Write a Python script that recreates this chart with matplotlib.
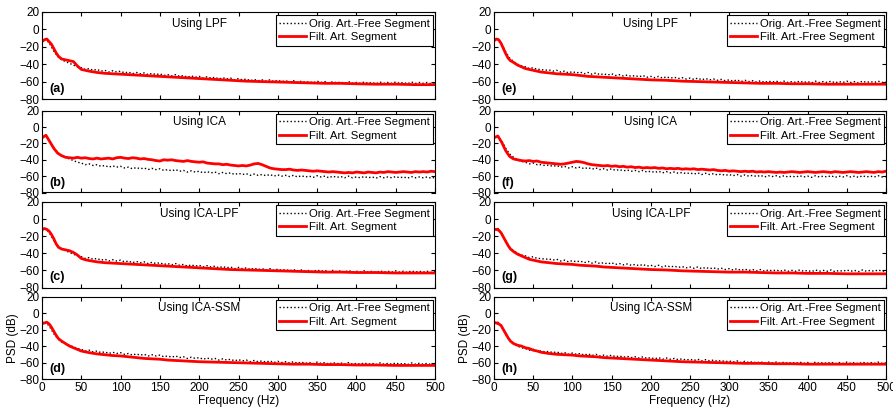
"""
PSD comparison of original artifact-free segments and filtered segments
for four artifact-removal methods (LPF, ICA, ICA-LPF, ICA-SSM).
Left column: filtered artifact segment; right column: filtered artifact-free segment.
"""

import numpy as np
import matplotlib.pyplot as plt

# ── Style ────────────────────────────────────────────────────────────
plt.rcParams.update({
    "font.family":      ["Liberation Sans", "DejaVu Sans"],
    "font.size":        8.5,
    "axes.linewidth":   0.8,
    "xtick.direction":  "in",
    "ytick.direction":  "in",
    "xtick.top":        True,
    "ytick.right":      True,
    "xtick.major.size": 3,
    "ytick.major.size": 3,
    "xtick.major.pad":  2,
    "ytick.major.pad":  2,
})

# ── Data (PSD in dB) ─────────────────────────────────────────────────
FREQ_FINE = np.arange(0, 505, 5)
FREQ_RED = [0, 3, 6, 9, 12, 15, 18, 21, 25, 30, 35, 40, 45, 50, 55, 60,
            70, 80, 90, 100, 110, 120, 130, 140, 150, 160, 170, 180, 190,
            200, 220, 240, 260, 280, 300, 320, 340, 360, 380, 400, 425,
            450, 475, 500]

# original artifact-free segment, left column
orig_left = [
    -14, -11, -17, -25, -31, -35, -37, -39, -41, -43, -44, -46, -45, -47,
    -46, -48, -47, -49, -47.5, -49, -48, -50, -49, -51, -49.5, -51, -50,
    -52, -50.5, -52, -51, -53, -52, -53.5, -52, -54, -53, -55, -53.5, -55,
    -54, -56, -54.5, -56, -55, -57, -55.5, -57, -56, -58, -56.5, -58, -57,
    -59, -57.5, -59, -58, -59.5, -58, -60, -58.5, -60, -59, -60.5, -59,
    -61, -59.5, -61, -60, -61.5, -59.5, -61, -60, -62, -60, -61.5, -60.5,
    -62, -60, -62, -61, -62, -60.5, -62, -61, -62.5, -60.5, -62, -61, -62,
    -60.5, -62, -61, -62.5, -60.5, -62, -61, -62, -61, -62.5, -61.5,
]

# original artifact-free segment, right column
orig_right = [
    -13, -11, -17, -26, -33, -37, -40, -42, -43, -45, -44, -46, -46, -47,
    -46.5, -48, -47, -49, -48, -50, -48.5, -50, -49, -51, -49.5, -51.5,
    -50, -52, -51, -52.5, -51, -53, -52, -53.5, -52.5, -54, -53, -54.5,
    -53, -55, -54, -55.5, -54, -56, -54.5, -56, -55, -56.5, -55.5, -57,
    -56, -57.5, -56, -58, -56.5, -58, -57, -58.5, -57.5, -59, -58, -59.5,
    -58, -60, -58.5, -60, -59, -60.5, -59, -61, -59.5, -60.5, -59.5, -61,
    -59.5, -61, -60, -61, -59.5, -61, -60, -61.5, -59.5, -61, -60, -61,
    -59.5, -61.5, -60, -61, -59.5, -61, -60, -61.5, -59.5, -61, -60, -61,
    -59.5, -61, -60.5,
]

# filtered segments: ICA curves on the 5 Hz grid, the rest on FREQ_RED
filt_ica_left = [
    -13, -10, -18, -26, -32, -35, -37, -37.5, -38, -37, -38, -37.5, -38.5,
    -39, -38, -39, -38.5, -38, -39, -37.5, -37, -38, -38.5, -37.5, -38,
    -39, -38.5, -39.5, -40, -41, -41.5, -40, -40.5, -40, -41, -41.5, -42,
    -41, -42, -42.5, -43, -42.5, -44, -44.5, -45, -45, -46, -45.5, -46.5,
    -47, -47.5, -47, -47.5, -46.5, -45, -44.5, -46, -48, -50, -51, -51.5,
    -52, -52, -51.5, -52.5, -53, -52.5, -53, -53.5, -54, -53.5, -54, -54.5,
    -55, -54.5, -55, -55.5, -56, -55.5, -56, -55, -55.5, -56, -55, -55.5,
    -56, -55, -55.5, -54.5, -55, -55.5, -55, -54.5, -55, -55.5, -54.5, -55,
    -54.5, -55, -54, -54.5,
]
filt_ica_right = [
    -13, -11, -19, -29, -36, -39, -40, -41, -41.5, -41, -42, -41.5, -43,
    -43.5, -44, -44.5, -45, -45.5, -45, -44, -43, -42, -42.5, -43.5, -45,
    -46, -46.5, -47, -47.5, -47, -48, -47.5, -48.5, -48, -49, -48.5, -49.5,
    -49, -50, -49.5, -50, -49.5, -50.5, -50, -51, -50.5, -51, -50.5, -51.5,
    -51, -51.5, -51, -52, -51.5, -52, -52.5, -52, -53, -53.5, -53, -54,
    -53.5, -54, -54.5, -54, -54.5, -54, -55, -54.5, -55, -54.5, -55, -55.5,
    -55, -55.5, -55, -54.5, -55, -55.5, -55, -54.5, -55, -55.5, -55, -54.5,
    -55, -55.5, -54.5, -55, -55.5, -55, -54.5, -55, -55.5, -55, -54.5, -55,
    -55.5, -54.5, -55, -54,
]
filt_lpf_left = [
    -14, -12, -11, -14, -17, -22, -27, -31, -34, -35, -36, -37, -42, -46,
    -47, -48, -49.5, -50.5, -51, -51.5, -52, -52.5, -53, -53.5, -54, -54.5,
    -55, -55.5, -56, -56.5, -57.5, -58.5, -59.5, -60, -60.5, -61, -61.5,
    -62, -62, -62.5, -63, -63, -63.5, -63.5,
]
filt_icalpf_left = [
    -12, -11, -12, -14, -18, -23, -29, -33, -35, -36, -37, -39, -42, -46,
    -47.5, -48.5, -50, -51, -51.5, -52, -52.5, -53, -53.5, -54, -54.5, -55,
    -55.5, -56, -56.5, -57, -58, -59, -59.5, -60, -60.5, -61, -61.5, -62,
    -62, -62.5, -62.5, -63, -63, -63,
]
filt_icassm_left = [
    -12, -12, -11, -13, -17, -22, -27, -31, -34, -37, -40, -42, -44, -46,
    -47, -48, -49.5, -50.5, -51.5, -52, -53, -54, -55, -55.5, -56, -57,
    -57.5, -58, -58.5, -59, -59.5, -60, -60.5, -61, -61.5, -62, -62, -62.5,
    -62.5, -63, -63, -63.5, -63.5, -63.5,
]
filt_lpf_right = [
    -13, -11, -12, -16, -22, -28, -33, -36, -38, -41, -43, -45, -46, -47,
    -48, -49, -50, -51, -51.5, -52, -53, -54, -54.5, -55, -55.5, -56, -56.5,
    -57, -57.5, -58, -58.5, -59.5, -60, -60.5, -61, -61.5, -62, -62, -62.5,
    -62.5, -63, -63, -63, -63,
]
filt_icalpf_right = [
    -12, -12, -13, -16, -21, -26, -31, -35, -38, -41, -43, -45, -47, -48,
    -49, -50, -51, -52, -52.5, -53, -54, -54.5, -55, -56, -56.5, -57, -57.5,
    -58, -58.5, -59, -59.5, -60.5, -61, -61.5, -62, -62, -62.5, -63, -63,
    -63.5, -63.5, -64, -64, -64,
]
filt_icassm_right = [
    -11, -12, -13, -15, -20, -25, -30, -34, -37, -39, -40, -42, -43, -45,
    -46, -47.5, -49, -50, -50.5, -51, -52, -52.5, -53, -54, -54.5, -55,
    -55.5, -56, -56.5, -57, -58, -59, -59.5, -60, -60.5, -61, -61, -61.5,
    -61.5, -62, -62, -62, -62, -62,
]

METHODS = ["LPF", "ICA", "ICA-LPF", "ICA-SSM"]
PANEL_LEFT = ["(a)", "(b)", "(c)", "(d)"]
PANEL_RIGHT = ["(e)", "(f)", "(g)", "(h)"]
LABEL_ORIG = "Orig. Art.-Free Segment"
LABEL_LEFT = "Filt. Art. Segment"
LABEL_RIGHT = "Filt. Art.-Free Segment"

FILT_LEFT = [(FREQ_RED, filt_lpf_left), (FREQ_FINE, filt_ica_left),
             (FREQ_RED, filt_icalpf_left), (FREQ_RED, filt_icassm_left)]
FILT_RIGHT = [(FREQ_RED, filt_lpf_right), (FREQ_FINE, filt_ica_right),
              (FREQ_RED, filt_icalpf_right), (FREQ_RED, filt_icassm_right)]

# ── Layout (pixel boxes -> figure fractions) ────────────────────────
W, H = 893, 412
COL_X = [(42, 435), (494, 886)]
ROW_Y = [(12, 99), (110.7, 192.5), (202, 287.5), (296.7, 379)]


def draw_panel(ax, orig, filt, method, panel, filt_label, bottom):
    ax.plot(FREQ_FINE, orig, color="black", ls=":", lw=1.0, label=LABEL_ORIG)
    ax.plot(filt[0], filt[1], color="red", lw=2.0, label=filt_label)
    ax.set_xlim(0, 500)
    ax.set_ylim(-80, 20)
    ax.set_xticks(range(0, 501, 50))
    ax.set_yticks(range(-80, 21, 20))
    ax.text(0.40, 0.86, f"Using {method}", transform=ax.transAxes,
            ha="center", va="center", fontsize=8.5)
    ax.text(0.02, 0.12, panel, transform=ax.transAxes, ha="left",
            va="center", fontsize=9, fontweight="bold")
    leg = ax.legend(loc="upper right", bbox_to_anchor=(0.995, 0.96),
                    fontsize=8.2, handlelength=2.4, handletextpad=0.2,
                    borderpad=0.3, labelspacing=0.3, borderaxespad=0.0,
                    fancybox=False, framealpha=1.0)
    leg.get_frame().set_edgecolor("black")
    leg.get_frame().set_linewidth(0.8)
    if bottom:
        ax.set_xlabel("Frequency (Hz)", labelpad=1)
        ax.set_ylabel("PSD (dB)")
        ax.yaxis.set_label_coords(-0.058, 0.5)
    else:
        ax.set_xticklabels([])


def main():
    fig = plt.figure(figsize=(W / 100, H / 100), dpi=100)
    for col, (x0, x1) in enumerate(COL_X):
        orig = orig_left if col == 0 else orig_right
        filts = FILT_LEFT if col == 0 else FILT_RIGHT
        panels = PANEL_LEFT if col == 0 else PANEL_RIGHT
        filt_label = LABEL_LEFT if col == 0 else LABEL_RIGHT
        for row, (y0, y1) in enumerate(ROW_Y):
            ax = fig.add_axes([x0 / W, 1 - y1 / H, (x1 - x0) / W, (y1 - y0) / H])
            draw_panel(ax, orig, filts[row], METHODS[row], panels[row],
                       filt_label, bottom=(row == 3))
    fig.savefig("out.png", dpi=100)
    plt.close(fig)


if __name__ == "__main__":
    main()
